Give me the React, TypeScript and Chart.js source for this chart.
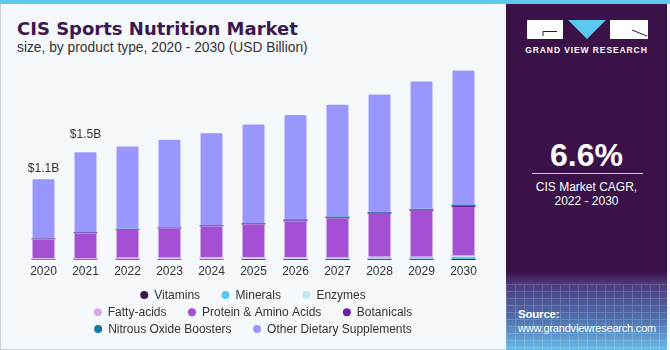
import React, { useEffect, useRef } from "react";
import { Chart, registerables } from "chart.js";

Chart.register(...registerables);

const categories = ["2020", "2021", "2022", "2023", "2024", "2025", "2026", "2027", "2028", "2029", "2030"];

const vitamins = [0.006, 0.007, 0.007, 0.008, 0.008, 0.009, 0.009, 0.01, 0.01, 0.011, 0.012];
const minerals = [0.004, 0.004, 0.005, 0.005, 0.005, 0.006, 0.006, 0.006, 0.007, 0.008, 0.03];
const enzymes = [0.003, 0.003, 0.003, 0.003, 0.004, 0.004, 0.004, 0.004, 0.005, 0.005, 0.005];
const fattyAcids = [0.012, 0.014, 0.015, 0.016, 0.017, 0.018, 0.019, 0.02, 0.021, 0.022, 0.02];
const proteinAmino = [0.26, 0.34, 0.38, 0.4, 0.43, 0.45, 0.49, 0.53, 0.59, 0.63, 0.66];
const botanicals = [0.008, 0.008, 0.009, 0.01, 0.01, 0.011, 0.012, 0.014, 0.015, 0.017, 0.022];
const nitrousOxide = [0.005, 0.008, 0.01, 0.008, 0.006, 0.008, 0.018, 0.012, 0.01, 0.01, 0.012];
const otherDietary = [0.822, 1.106, 1.141, 1.21, 1.27, 1.364, 1.442, 1.544, 1.622, 1.757, 1.849];

const valueLabels = ["$1.1B", "$1.5B"];

const FONT = "'Liberation Sans', Arial, sans-serif";
const legendRows = [[0, 1, 2], [3, 4, 5], [6, 7]];
const legendRowY = [295, 312.3, 329];
const labelOffsets = [6, 13];

const legendPlugin = {
  id: "customLegend",
  afterDraw(chart: any) {
    const ctx = chart.ctx;
    const ds = chart.data.datasets;
    ctx.save();
    ctx.font = `12px ${FONT}`;
    ctx.textBaseline = "middle";
    ctx.textAlign = "left";
    const centerX = 253;
    legendRows.forEach((row, r) => {
      const widths = row.map((i) => 14 + ctx.measureText(ds[i].label).width);
      const total = widths.reduce((a, b) => a + b, 0) + 21.5 * (row.length - 1);
      let x = centerX - total / 2;
      const y = legendRowY[r];
      row.forEach((i, k) => {
        ctx.fillStyle = ds[i].backgroundColor;
        ctx.beginPath();
        ctx.arc(x + 4, y, 4, 0, Math.PI * 2);
        ctx.fill();
        ctx.fillStyle = "#333333";
        ctx.fillText(ds[i].label, x + 14, y + 0.5);
        x += widths[k] + 21.5;
      });
    });
    ctx.restore();
  },
};

const valueLabelPlugin = {
  id: "valueLabels",
  afterDatasetsDraw(chart: any) {
    const ctx = chart.ctx;
    const meta = chart.getDatasetMeta(chart.data.datasets.length - 1);
    ctx.save();
    ctx.font = `12px ${FONT}`;
    ctx.fillStyle = "#333333";
    ctx.textAlign = "center";
    ctx.textBaseline = "alphabetic";
    valueLabels.forEach((t, i) => {
      const bar = meta.data[i];
      if (!bar) return;
      ctx.fillText(t, bar.x, bar.y - labelOffsets[i]);
    });
    ctx.restore();
  },
};

function ChartCanvas() {
  const ref = useRef<HTMLCanvasElement | null>(null);
  useEffect(() => {
    if (!ref.current) return;
    const mk = (label: string, data: number[], color: string, extra: any = {}) => ({
      label,
      data,
      backgroundColor: color,
      stack: "s",
      barPercentage: 0.57,
      categoryPercentage: 1,
      borderWidth: 0,
      ...extra,
    });
    const chart = new Chart(ref.current, {
      type: "bar",
      data: {
        labels: categories,
        datasets: [
          mk("Vitamins", vitamins, "#3b1450"),
          mk("Minerals", minerals, "#55c8f0"),
          mk("Enzymes", enzymes, "#bfe8f8"),
          mk("Fatty-acids", fattyAcids, "#d9a9ea"),
          mk("Protein & Amino Acids", proteinAmino, "#a54fd5", {
            borderWidth: { left: 1, right: 1, top: 0, bottom: 0 },
            borderColor: "rgba(255,255,255,0.25)",
          }),
          mk("Botanicals", botanicals, "#6b1fa3"),
          mk("Nitrous Oxide Boosters", nitrousOxide, "#1479a3"),
          mk("Other Dietary Supplements", otherDietary, "#9996fd", {
            borderWidth: { left: 1, right: 1, top: 1, bottom: 0 },
            borderColor: "rgba(255,255,255,0.3)",
            borderRadius: { topLeft: 2, topRight: 2, bottomLeft: 0, bottomRight: 0 },
            borderSkipped: "bottom",
          }),
        ],
      },
      options: {
        responsive: false,
        animation: false,
        devicePixelRatio: 1,
        layout: { padding: { left: 22.5, right: 21.5, top: 60, bottom: 60 } },
        plugins: { legend: { display: false }, tooltip: { enabled: false } },
        scales: {
          x: {
            stacked: true,
            grid: { display: false, drawTicks: false },
            border: { display: false },
            ticks: { color: "#333333", font: { family: FONT, size: 12 }, padding: 4 },
            afterFit: (s: any) => {
              s.height = 30;
            },
          },
          y: { stacked: true, display: false, min: 0, max: 2.74 },
        },
      },
      plugins: [legendPlugin, valueLabelPlugin],
    } as any);
    return () => chart.destroy();
  }, []);
  return (
    <canvas
      ref={ref}
      width={506}
      height={350}
      style={{ position: "absolute", left: 0, top: 0, width: 506, height: 350 }}
    />
  );
}

export default function App() {
  return (
    <div
      style={{
        position: "absolute",
        left: 0,
        top: 0,
        width: 670,
        height: 350,
        background: "#f5f9fc",
        overflow: "hidden",
        fontFamily: FONT,
      }}
    >
      <div
        style={{
          position: "absolute",
          left: 0,
          top: 0,
          width: 506,
          height: 350,
          boxSizing: "border-box",
          borderLeft: "1px solid #cdd3d8",
          borderBottom: "1px solid #cdd3d8",
        }}
      />
      <div
        style={{
          position: "absolute",
          left: 17,
          top: 20,
          fontFamily: "'DejaVu Sans', sans-serif",
          fontWeight: "bold",
          fontSize: 18,
          lineHeight: "18px",
          color: "#3c1850",
          whiteSpace: "nowrap",
        }}
      >
        CIS Sports Nutrition Market
      </div>
      <div
        style={{
          position: "absolute",
          left: 17,
          top: 41,
          fontSize: 13.8,
          lineHeight: "14px",
          color: "#333333",
          whiteSpace: "nowrap",
        }}
      >
        size, by product type, 2020 - 2030 (USD Billion)
      </div>
      <ChartCanvas />
      <div
        style={{
          position: "absolute",
          left: 506,
          top: 0,
          width: 161,
          height: 350,
          background:
            "linear-gradient(180deg, #3a1248 0px, #3a1248 272px, #4a3a7c 284px, #4f6eac 318px, #66bbe6 350px)",
          overflow: "hidden",
        }}
      >
        <div
          style={{
            position: "absolute",
            left: 0,
            top: 284,
            width: 161,
            height: 66,
            opacity: 0.18,
            backgroundImage:
              "repeating-linear-gradient(90deg, rgba(255,255,255,0.9) 0px, rgba(255,255,255,0.9) 1px, transparent 1px, transparent 9px), repeating-linear-gradient(180deg, rgba(255,255,255,0.9) 0px, rgba(255,255,255,0.9) 1px, transparent 1px, transparent 7px)",
          }}
        />
        <svg
          width={161}
          height={60}
          style={{ position: "absolute", left: 0, top: 0 }}
        >
          <rect x={21} y={20} width={36} height={19} fill="#ffffff" />
          <path d="M37 36 L37 31.5 L51 31.5" stroke="#3a1248" strokeWidth={1} fill="none" />
          <polygon points="62,20 100,20 81,39" fill="#5bc8f0" />
          <rect x={104} y={20} width={38} height={19} fill="#ffffff" />
          <path d="M126 30 L141 36" stroke="#3a1248" strokeWidth={1} fill="none" />
        </svg>
        <div
          style={{
            position: "absolute",
            left: 0,
            width: 161,
            top: 45,
            textAlign: "center",
            color: "#ffffff",
            fontWeight: "bold",
            fontSize: 8.5,
            lineHeight: "10px",
            letterSpacing: 0.9,
            whiteSpace: "nowrap",
          }}
        >
          GRAND VIEW RESEARCH
        </div>
        <div
          style={{
            position: "absolute",
            left: 0,
            width: 161,
            top: 139,
            textAlign: "center",
            color: "#ffffff",
            fontWeight: "bold",
            fontSize: 32,
            lineHeight: "32px",
          }}
        >
          6.6%
        </div>
        <div
          style={{
            position: "absolute",
            left: 26,
            top: 173,
            width: 111,
            height: 1,
            background: "#cfc6d6",
          }}
        />
        <div
          style={{
            position: "absolute",
            left: 0,
            width: 161,
            top: 179.5,
            textAlign: "center",
            color: "#ffffff",
            fontSize: 12,
            lineHeight: "14.5px",
          }}
        >
          CIS Market CAGR,
          <br />
          2022 - 2030
        </div>
        <div
          style={{
            position: "absolute",
            left: 12,
            top: 308,
            color: "#ffffff",
            fontSize: 11,
            lineHeight: "13.5px",
            letterSpacing: -0.2,
            whiteSpace: "nowrap",
          }}
        >
          <span style={{ fontWeight: "bold", fontSize: 11.5 }}>Source:</span>
          <br />
          www.grandviewresearch.com
        </div>
      </div>
      <div
        style={{
          position: "absolute",
          left: 0,
          top: 0,
          width: 670,
          height: 4,
          background: "#5fc8ef",
        }}
      />
    </div>
  );
}
